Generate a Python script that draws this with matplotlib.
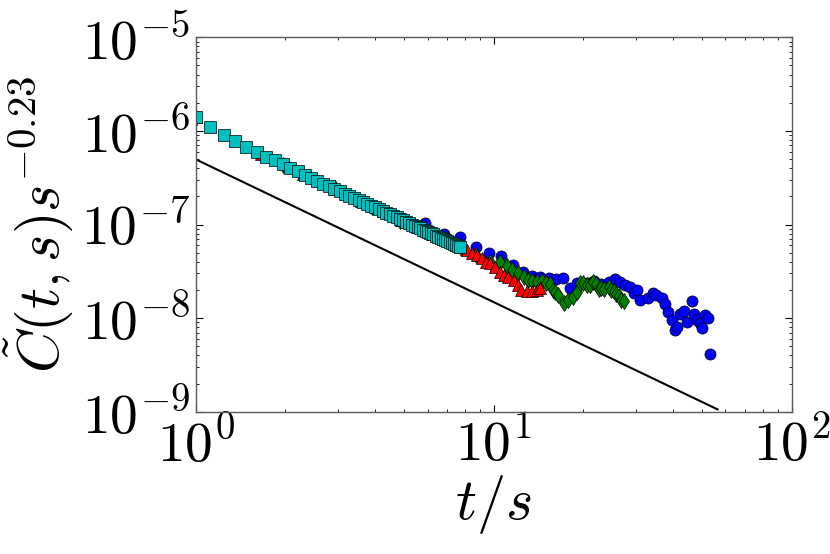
import matplotlib
matplotlib.use("Agg")
import matplotlib.pyplot as plt
from matplotlib.ticker import LogLocator, NullFormatter

plt.rcParams['mathtext.fontset'] = 'cm'
plt.rcParams['font.family'] = 'serif'
plt.rcParams['font.serif'] = ['cmr10', 'DejaVu Serif']
plt.rcParams['axes.formatter.use_mathtext'] = True

# ---Data
t_cyan = [1.00, 1.12, 1.24, 1.36, 1.48, 1.60, 1.72, 1.84, 1.96, 2.08,
          2.20, 2.32, 2.44, 2.56, 2.68, 2.80, 2.92, 3.04, 3.16, 3.28,
          3.40, 3.52, 3.64, 3.76, 3.88, 4.00, 4.12, 4.24, 4.36, 4.48,
          4.60, 4.72, 4.84, 4.96, 5.08, 5.20, 5.32, 5.44, 5.56, 5.68,
          5.80, 5.92, 6.04, 6.16, 6.28, 6.40, 6.52, 6.64, 6.76, 6.88,
          7.00, 7.12, 7.24, 7.36, 7.48, 7.60, 7.72]
c_cyan = [1.42e-6, 1.09e-6, 9.02e-7, 7.82e-7, 6.79e-7, 6.01e-7, 5.31e-7, 4.84e-7, 4.42e-7, 4.04e-7,
          3.70e-7, 3.40e-7, 3.13e-7, 2.90e-7, 2.72e-7, 2.55e-7, 2.40e-7, 2.26e-7, 2.14e-7, 2.03e-7,
          1.93e-7, 1.83e-7, 1.75e-7, 1.66e-7, 1.59e-7, 1.52e-7, 1.46e-7, 1.40e-7, 1.34e-7, 1.29e-7,
          1.24e-7, 1.19e-7, 1.15e-7, 1.11e-7, 1.07e-7, 1.04e-7, 1.00e-7, 9.68e-8, 9.38e-8, 9.10e-8,
          8.81e-8, 8.55e-8, 8.30e-8, 8.07e-8, 7.83e-8, 7.62e-8, 7.41e-8, 7.23e-8, 7.03e-8, 6.85e-8,
          6.68e-8, 6.52e-8, 6.35e-8, 6.21e-8, 6.05e-8, 5.92e-8, 5.78e-8]

t_blue = [1.0, 2.0, 3.0, 4.0, 5.0, 5.9, 6.8, 7.72, 8.73, 9.66,
          10.6, 11.6, 12.5, 13.4, 14.3, 15.3, 16.2, 17.1, 18.1, 19.0,
          19.9, 20.8, 21.8, 22.9, 24.3, 25.6, 26.6, 27.7, 28.6, 29.5,
          30.2, 31.0, 32.9, 34.2, 35.1, 36.7, 37.7, 38.6, 39.7, 40.7,
          41.4, 42.3, 43.4, 44.5, 46.3, 46.9, 48.1, 49.3, 50.0, 51.3,
          52.6, 53.3]
c_blue = [1.41e-6, 4.37e-7, 2.34e-7, 1.55e-7, 1.12e-7, 1.03e-7, 7.94e-8, 7.29e-8, 5.79e-8, 5.00e-8,
          4.60e-8, 3.69e-8, 3.08e-8, 2.84e-8, 2.77e-8, 2.69e-8, 2.60e-8, 2.66e-8, 2.08e-8, 2.36e-8,
          2.40e-8, 2.40e-8, 2.51e-8, 2.34e-8, 2.45e-8, 2.60e-8, 2.45e-8, 2.26e-8, 2.13e-8, 1.84e-8,
          2.00e-8, 1.56e-8, 1.63e-8, 1.84e-8, 1.77e-8, 1.63e-8, 1.42e-8, 1.17e-8, 9.55e-9, 7.46e-9,
          8.09e-9, 1.12e-8, 1.19e-8, 9.16e-9, 1.53e-8, 1.12e-8, 9.55e-9, 8.79e-9, 7.78e-9, 1.08e-8,
          9.95e-9, 4.10e-9]

t_green = [1.0, 1.97, 2.94, 3.90, 4.86, 5.83, 6.8, 7.78, 8.75, 9.7,
           10.5, 11.1, 11.5, 12.1, 12.6, 13.0, 13.5, 14.0, 14.5, 15.0,
           15.4, 15.8, 16.1, 16.5, 17.2, 17.8, 18.5, 19.0, 19.5, 20.0,
           20.5, 21.1, 21.6, 22.1, 22.5, 23.0, 23.4, 24.3, 24.8, 25.3,
           25.8, 26.3, 26.8, 27.3]
c_green = [1.38e-6, 4.31e-7, 2.43e-7, 1.54e-7, 1.08e-7, 8.51e-8, 6.92e-8, 5.55e-8, 4.68e-8, 3.98e-8,
           4.01e-8, 3.57e-8, 3.27e-8, 3.01e-8, 2.75e-8, 2.55e-8, 2.51e-8, 2.45e-8, 2.51e-8, 2.40e-8,
           2.29e-8, 2.00e-8, 1.91e-8, 1.77e-8, 1.46e-8, 1.56e-8, 1.69e-8, 1.91e-8, 2.40e-8, 2.40e-8,
           2.26e-8, 2.26e-8, 2.45e-8, 2.29e-8, 2.04e-8, 2.09e-8, 2.04e-8, 2.14e-8, 2.00e-8, 1.95e-8,
           1.82e-8, 1.74e-8, 1.58e-8, 1.51e-8]

t_red = [1.0, 1.65, 2.3, 2.95, 3.6, 4.25, 4.9, 5.55, 6.2, 6.85,
         7.5, 7.8, 8.13, 8.45, 8.78, 9.12, 9.44, 9.73, 10.1, 10.5,
         10.8, 11.2, 11.7, 12.1, 12.4, 12.9, 13.4, 14.0, 14.3]
c_red = [1.40e-6, 5.62e-7, 3.47e-7, 2.40e-7, 1.78e-7, 1.38e-7, 1.12e-7, 9.33e-8, 7.94e-8, 6.92e-8,
         6.03e-8, 5.69e-8, 5.35e-8, 4.92e-8, 4.72e-8, 4.36e-8, 4.01e-8, 3.85e-8, 3.54e-8, 3.13e-8,
         2.88e-8, 2.73e-8, 2.55e-8, 2.26e-8, 2.00e-8, 1.95e-8, 1.95e-8, 1.98e-8, 2.11e-8]

# ---Guide line
line_t = [1.0, 56.4]
line_c = [4.97e-7, 1.06e-9]

# ---Plot
fig = plt.figure(figsize=(8.3, 5.54), dpi=100)
ax = fig.add_axes([0.2358, 0.2568, 0.7179, 0.6759])

mk = dict(linestyle='none', markersize=8, markeredgecolor='black', markeredgewidth=0.5)
ax.plot(t_blue, c_blue, marker='o', color='b', **mk)
ax.plot(t_green, c_green, marker='d', color='g', **mk)
ax.plot(t_red, c_red, marker='^', color='r', **mk)
ax.plot(t_cyan, c_cyan, marker='s', color='c', **mk)
ax.plot(line_t, line_c, color='black', linewidth=1.5)

ax.set_xscale('log')
ax.set_yscale('log')
ax.set_xlim(1, 100)
ax.set_ylim(1e-9, 1e-5)

for axis in (ax.xaxis, ax.yaxis):
    axis.set_major_locator(LogLocator(base=10, numticks=12))
    axis.set_minor_locator(LogLocator(base=10, subs=range(2, 10), numticks=12))
    axis.set_minor_formatter(NullFormatter())

ax.set_xlabel(r'$t/s$', fontsize=42, labelpad=0)
ax.set_ylabel(r'$\tilde{C}(t,s)s^{-0.23}$', fontsize=42, labelpad=4)

ax.tick_params(which='both', direction='in', top=True, right=True, labelsize=40)
ax.tick_params(which='major', length=5, width=0.8)
ax.tick_params(which='minor', length=2.5, width=0.6)
ax.tick_params(axis='x', pad=4)
ax.tick_params(axis='y', pad=4)
for sp in ax.spines.values():
    sp.set_color('0.35')
    sp.set_linewidth(1.0)

fig.savefig('out.png', dpi=100)
